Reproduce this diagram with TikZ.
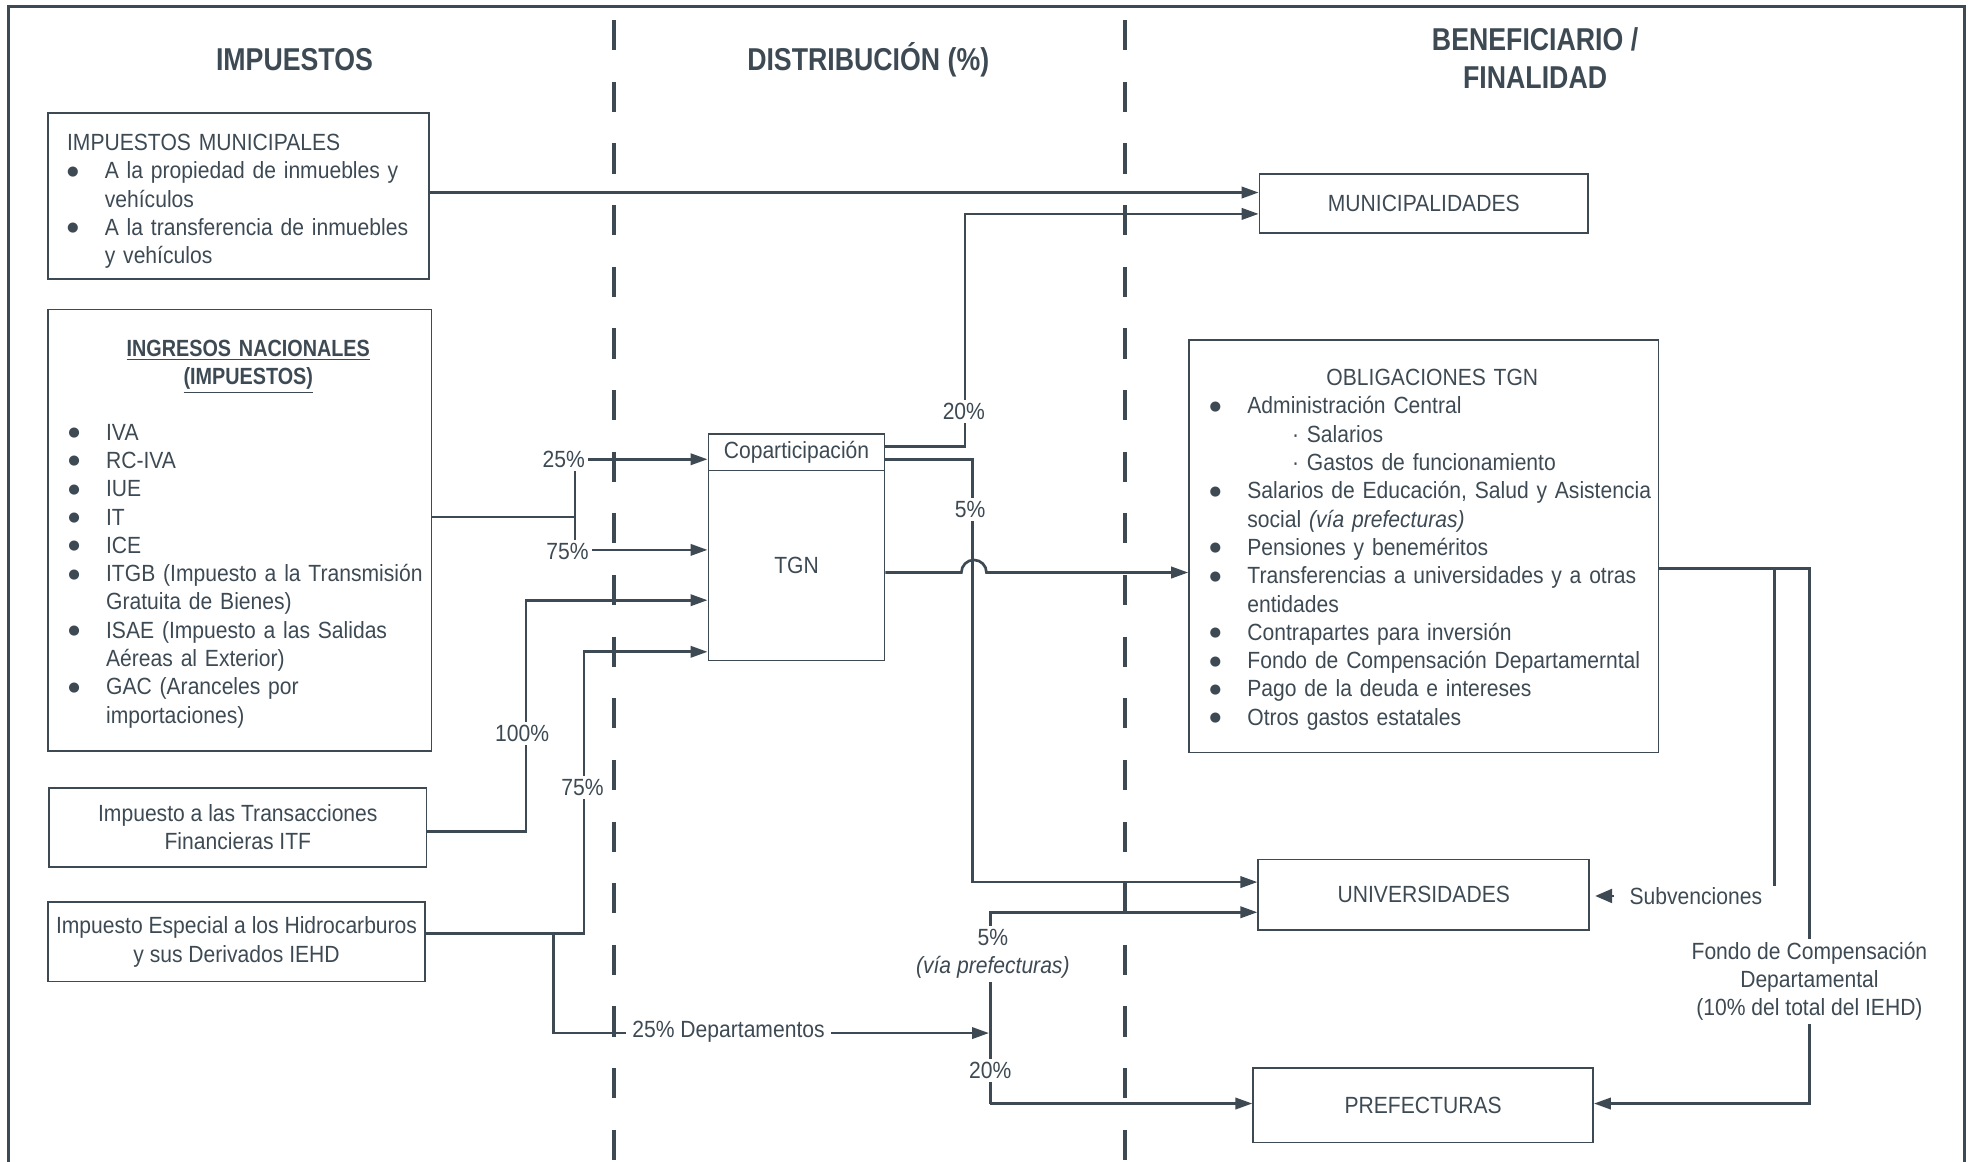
\documentclass[tikz,border=0pt]{standalone}
\usepackage{fontspec}
\usepackage{graphicx}
\setmainfont[FakeStretch=0.9]{Liberation Sans}
\newfontfamily\hdrfamily[FakeStretch=0.845]{Liberation Sans}
\newfontfamily\djfamily{DejaVu Sans}
\usetikzlibrary{arrows.meta,fit}
\definecolor{ink}{RGB}{61,74,84}
\setlength\parindent{0pt}
\newcommand\bdot{\raisebox{1.6pt}{\djfamily\fontsize{6pt}{6pt}\selectfont ●}}
\newcommand\bl[1]{\par\noindent\hangindent=0.6cm\hangafter=1\makebox[0.6cm][l]{\bdot}\strut#1}
\newcommand\sbl[1]{\par\noindent\hspace*{1.31cm}\strut#1}
\begin{document}
\begin{tikzpicture}[x=0.02cm, y=-0.02cm,
  every node/.style={text=ink, font=\fontsize{10.6pt}{12.8pt}\selectfont},
  box/.style={draw=ink, line width=0.8pt, inner sep=0pt},
  txt/.style={inner sep=0pt, align=left},
  ctr/.style={inner sep=0pt, align=center},
  lbl/.style={fill=white, inner sep=1.5pt, align=center},
  hdr/.style={font=\hdrfamily\bfseries\fontsize{14.3pt}{17pt}\selectfont, inner sep=0pt, align=center},
  line/.style={draw=ink, line width=1.2pt},
  arr/.style={line, -{Triangle[length=0.27cm,width=0.18cm]}},
  sep/.style={draw=ink, line width=1.6pt, dash pattern=on 0.48cm off 0.5cm}]
\useasboundingbox (0,0) rectangle (1568,923);
\clip (0,0) rectangle (1568,923);
% frame and column separators
\draw[ink, line width=1.2pt] (7,940) -- (7,5) -- (1561,5) -- (1561,940);
\draw[sep] (488,16) -- (488,940);
\draw[sep] (894,16) -- (894,940);
% headers
\node[hdr, anchor=base] (h1) at (234,56) {IMPUESTOS};
\node[hdr, anchor=base] (h2) at (690,56) {DISTRIBUCIÓN (\%)};
\node[hdr, anchor=north] (h3) at (1220,19) {\strut BENEFICIARIO /\\FINALIDAD};
% left column boxes
\node[box, fit={(38,90)(341,222)}] (mun) {};
\node[txt, anchor=north west, text width=7cm] (munT) at (53,103.5) {\strut IMPUESTOS MUNICIPALES\bl{A la propiedad de inmuebles y\newline vehículos}\bl{A la transferencia de inmuebles\newline y vehículos}\par};
\node[box, fit={(38,246)(343,597)}] (ing) {};
\node[txt, anchor=north west, text width=7cm] (ingT) at (54,267) {{\hdrfamily\bfseries\makebox[5.72cm]{\strut\underline{INGRESOS NACIONALES}}\par\makebox[5.72cm]{\underline{(IMPUESTOS)}}\par}\vspace{11pt}\bl{IVA}\bl{RC-IVA}\bl{IUE}\bl{IT}\bl{ICE}\bl{ITGB (Impuesto a la Transmisión\newline Gratuita de Bienes)}\bl{ISAE (Impuesto a las Salidas\newline Aéreas al Exterior)}\bl{GAC (Aranceles por\newline importaciones)}\par};
\node[box, fit={(39,626)(339,689)}] (itf) {};
\node[ctr] (itfT) at (itf.center) {Impuesto a las Transacciones\\Financieras ITF};
\node[box, fit={(38,717)(338,780)}] (iehd) {};
\node[ctr] (iehdT) at (iehd.center) {Impuesto Especial a los Hidrocarburos\\y sus Derivados IEHD};
% middle
\node[box, fit={(563,345)(703,374)}] (cop) {};
\node[ctr] (copT) at (cop.center) {Coparticipación};
\node[box, fit={(563,374)(703,525)}] (tgn) {};
\node[ctr] (tgnT) at (tgn.center) {TGN};
% right column
\node[box, fit={(1001,138)(1262,185)}] (muni) {};
\node[ctr] (muniT) at (muni.center) {MUNICIPALIDADES};
\node[box, fit={(945,270)(1318,598)}] (oblig) {};
\node[txt, anchor=north west, text width=8cm] (obligT) at (961,290.4) {\makebox[7.08cm]{\strut OBLIGACIONES TGN}\bl{Administración Central}\sbl{· Salarios}\sbl{· Gastos de funcionamiento}\bl{Salarios de Educación, Salud y Asistencia\newline social \textit{(vía prefecturas)}}\bl{Pensiones y beneméritos}\bl{Transferencias a universidades y a otras\newline entidades}\bl{Contrapartes para inversión}\bl{Fondo de Compensación Departamerntal}\bl{Pago de la deuda e intereses}\bl{Otros gastos estatales}\par};
\node[box, fit={(1000,683)(1263,739)}] (univ) {};
\node[ctr] (univT) at (univ.center) {UNIVERSIDADES};
\node[box, fit={(996,849)(1266,908)}] (pref) {};
\node[ctr] (prefT) at (pref.center) {PREFECTURAS};
% coordinates
\coordinate (j1) at (457,411);
\coordinate (dj) at (440,742);
\coordinate (vb) at (787,877);
\coordinate (dtip) at (786,821);
\coordinate (oj) at (1410,452);
\coordinate (sEnd) at (1410,704);
% connectors
\draw[arr] (mun.east |- 0,153) -- (muni.west |- 0,153);
\draw[arr] (cop.east |- 0,355) -| (767,170) -- (muni.west |- 0,170);
\draw[arr] (cop.east |- 0,365) -| (773,701) -- (univ.west |- 0,701);
\draw[arr] (tgn.east |- 0,455) -- (764,455) arc[start angle=180,end angle=0,radius=0.2cm] -- (oblig.west |- 0,455);
\draw[line] (ing.east |- j1) -- (j1);
\draw[arr] (j1) |- (cop.west |- 0,365);
\draw[arr] (j1) |- (tgn.west |- 0,437);
\draw[arr] (itf.east |- 0,661) -| (418,477) -- (tgn.west |- 0,477);
\draw[arr] (iehd.east |- dj) -| (464,518) -- (tgn.west |- 0,518);
\draw[arr] (dj) |- (dtip);
\draw[arr] (vb) |- (univ.west |- 0,725);
\draw[arr] (vb) -- (pref.west |- vb);
\draw[arr] (oblig.east |- oj) -| (1438,877) -- (pref.east |- 0,877);
\draw[line] (oj) -- (sEnd);
% labels on connectors
\node[lbl] (l25) at (448,365) {25\%};
\node[lbl] (l75a) at (451,438) {75\%};
\node[lbl] (l100) at (415,583) {100\%};
\node[lbl] (l75b) at (463,626) {75\%};
\node[lbl, inner xsep=3pt] (ldep) at (579,820) {25\% Departamentos};
\node[lbl] (l20a) at (766,327) {20\%};
\node[lbl] (l5a) at (771,405) {5\%};
\node[lbl] (l5b) at (789,758) {5\%\\\textit{(vía prefecturas)}};
\node[lbl] (l20b) at (787,851) {20\%};
\node[lbl] (fondo) at (1438,780) {Fondo de Compensación\\Departamental\\(10\% del total del IEHD)};
\node[inner sep=1pt, anchor=base west] (subv) at (1293,718.7) {Subvenciones};
\draw[line, -{Triangle[length=0.27cm,width=0.22cm]}, shorten <=0.2cm, shorten >=0.08cm] (subv.west) -- (univ.east |- subv.west);
\end{tikzpicture}
\end{document}
